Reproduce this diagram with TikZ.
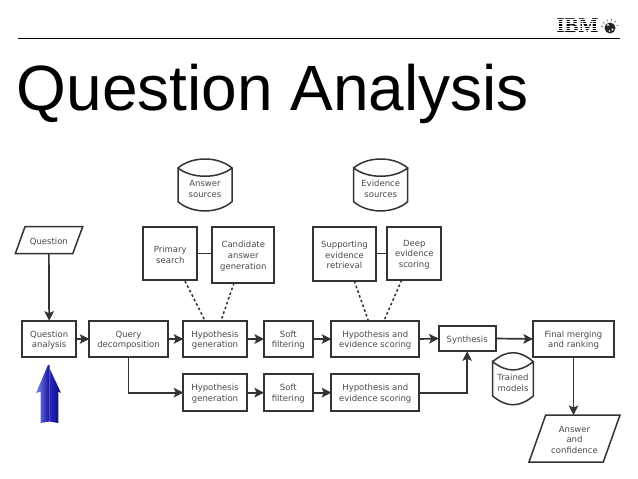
\documentclass[tikz,border=0pt]{standalone}
\usepackage{fontspec}
\setmainfont{DejaVu Sans}
\newfontfamily\titlefont{Liberation Sans}
\newfontfamily\logofont{Liberation Serif}
\usetikzlibrary{arrows.meta,calc}
\definecolor{ink}{HTML}{333333}
\definecolor{txt}{HTML}{4A4A4A}
\definecolor{arrA}{HTML}{8088E8}
\definecolor{arrB}{HTML}{10109A}
\definecolor{arrC}{HTML}{2A2AD0}
\definecolor{arrD}{HTML}{0A0A70}
\tikzset{
  x=1pt,y=-1pt,
  boxnode/.style={draw=ink,line width=1.7pt,align=center,inner sep=0pt,outer sep=0pt,text=txt,font=\fontsize{8.5}{10.7}\selectfont},
  plain/.style={draw=none,align=center,inner sep=0pt,outer sep=0pt,text=txt,font=\fontsize{8.5}{10.7}\selectfont},
  link/.style={draw=ink,line width=1.7pt},
  flow/.style={link,-{Stealth[length=9.5pt,width=9.5pt,inset=2pt]}},
  weak/.style={draw=ink,line width=1.5pt,dash pattern=on 2.6pt off 2.4pt},
  outline/.style={draw=ink,line width=1.5pt},
}
% name, x1, y1, x2, y2, text
\newcommand{\bx}[6]{%
  \pgfmathsetmacro{\myw}{#4-#2}\pgfmathsetmacro{\myh}{#5-#3}%
  \node[boxnode,minimum width=\myw pt,minimum height=\myh pt,anchor=north west] (#1) at (#2,#3) {\rule{0pt}{9pt}#6};}
% name, x1, x2, y0, y1, y2, y3, text
\newcommand{\cyl}[8]{%
  \pgfmathsetmacro{\myw}{#3-#2}\pgfmathsetmacro{\myh}{#6-#5}%
  \draw[outline] (#2,#5) .. controls (#2+14,#4-3) and (#3-14,#4-3) .. (#3,#5)
     .. controls (#3-14,#5+11) and (#2+14,#5+11) .. (#2,#5) -- (#2,#6)
     .. controls (#2+14,#7+3) and (#3-14,#7+3) .. (#3,#6) -- (#3,#5);
  \node[plain,minimum width=\myw pt,minimum height=\myh pt,anchor=north west] (#1) at (#2,#5+3) {\rule{0pt}{9pt}#8};}
% name, x top-left, x top-right, x bottom-left, x bottom-right, y1, y2, text
\newcommand{\para}[8]{%
  \pgfmathsetmacro{\myw}{#5-#4}\pgfmathsetmacro{\myh}{#7-#6}\pgfmathsetmacro{\myx}{(#2+#5)/2}%
  \draw[outline] (#2,#6) -- (#3,#6) -- (#5,#7) -- (#4,#7) -- cycle;
  \node[plain,minimum width=\myw pt,minimum height=\myh pt] (#1) at (\myx,{(#6+#7)/2}) {\rule{0pt}{9pt}#8};}
\begin{document}
\begin{tikzpicture}
\useasboundingbox (0,0) rectangle (638,479);
\fill[white] (0,0) rectangle (638,479);
% header
\coordinate (ruleL) at (18,38.5);
\coordinate (ruleR) at (620,38.5);
\draw[black,line width=0.8pt] (ruleL) -- (ruleR);
\node[anchor=base west,inner sep=0pt,text=black,font=\fontsize{64}{64}\titlefont] (title) at (16.5,110) {Question Analysis};
% logo
\node[anchor=center,inner sep=0pt,text=black,font=\fontsize{21}{21}\logofont\bfseries] (logo) at (577.5,25.5) {IBM};
\foreach \yy in {18.6,20.9,23.2,25.5,27.8,30.1}
  \fill[white] (552,\yy) rectangle (602,\yy+0.8);
\fill[black!85] (610,28) circle[radius=5.5];
\fill[white] (608,25) circle[radius=1.2] (612.5,29.5) circle[radius=1.2] (609.5,31) circle[radius=0.9];
\foreach \a in {20,50,80,110,140,170}
  \draw[black!70,line width=0.5pt] ($(610,28)+(-\a:7)$) -- ($(610,28)+(-\a:9)$);
% blue arrow
\shade[left color=arrA,right color=arrB]
  (48,365) -- (49.5,365) -- (49.5,421.5) -- (40.7,423) -- (40.7,391.5) -- (36,393) -- cycle;
\shade[left color=arrC,right color=arrD]
  (48,365) -- (61,393) -- (58.3,391.5) -- (58.3,423) -- (49.5,421.5) -- (49.5,368) -- cycle;
% diagram
\para{question}{25}{82.7}{15.3}{72.7}{226.7}{253.7}{Question}
\cyl{ans}{178}{232}{159}{168}{201.7}{211}{Answer\\sources}
\cyl{evi}{353.7}{407.7}{159}{168}{201.7}{211}{Evidence\\sources}
\cyl{trained}{492.7}{533.3}{352.7}{361.7}{396}{404.7}{Trained\\models}
\bx{primary}{143.3}{226.7}{197.3}{280.3}{Primary\\search}
\bx{candidate}{212.3}{226.7}{274.3}{282.7}{Candidate\\answer\\generation}
\bx{support}{313.3}{226.7}{375.7}{280.7}{Supporting\\evidence\\retrieval}
\bx{deep}{387.3}{226.7}{441.3}{280}{Deep\\evidence\\scoring}
\bx{qa}{22.3}{320.7}{76}{357.3}{Question\\analysis}
\bx{qd}{89.3}{320.7}{167.7}{357.3}{Query\\decomposition}
\bx{hypA}{183.3}{320.7}{246.7}{357.3}{Hypothesis\\generation}
\bx{softA}{264}{320.7}{312.7}{357.3}{Soft\\filtering}
\bx{scoreA}{331.3}{320.7}{419.3}{357.3}{Hypothesis and\\evidence scoring}
\bx{syn}{438.7}{325.7}{495.7}{351.3}{Synthesis}
\bx{final}{533}{320.7}{614}{357.3}{Final merging\\and ranking}
\bx{hypB}{183.3}{374.3}{246.7}{411}{Hypothesis\\generation}
\bx{softB}{264}{374.3}{312.7}{411}{Soft\\filtering}
\bx{scoreB}{331.3}{374.3}{419.3}{411}{Hypothesis and\\evidence scoring}
\para{answer}{545.7}{620}{529}{603.3}{415}{462}{Answer\\and\\confidence}
% connectors
\draw[flow] (question.south) -- (qa.north);
\draw[link] (primary.east) -- (candidate.west |- primary.east);
\draw[link] (support.east |- deep.west) -- (deep.west);
\draw[weak] ($(primary.south west)+(41.7,0.7)$) -- ($(hypA.north west)+(21.7,0)$);
\draw[weak] ($(candidate.south west)+(21.7,0.3)$) -- ($(hypA.north west)+(37.7,0)$);
\draw[weak] ($(support.south west)+(41,0.3)$) -- ($(scoreA.north west)+(37,0)$);
\draw[weak] ($(deep.south west)+(14.4,0)$) -- ($(scoreA.north west)+(52.7,0)$);
\draw[flow] (qa.east) -- (qd.west);
\draw[flow] (qd.east) -- (hypA.west);
\draw[flow] (hypA.east) -- (softA.west);
\draw[flow] (softA.east) -- (scoreA.west);
\draw[flow] (scoreA.east) -- (syn.west);
\draw[flow] (syn.east) -- (final.west);
\draw[flow] (hypB.east) -- (softB.west);
\draw[flow] (softB.east) -- (scoreB.west);
\draw[flow] (qd.south) |- (hypB.west);
\draw[flow] (scoreB.east) -| (syn.south);
\draw[flow] (final.south) -- (final.south |- answer.north);
\end{tikzpicture}
\end{document}
